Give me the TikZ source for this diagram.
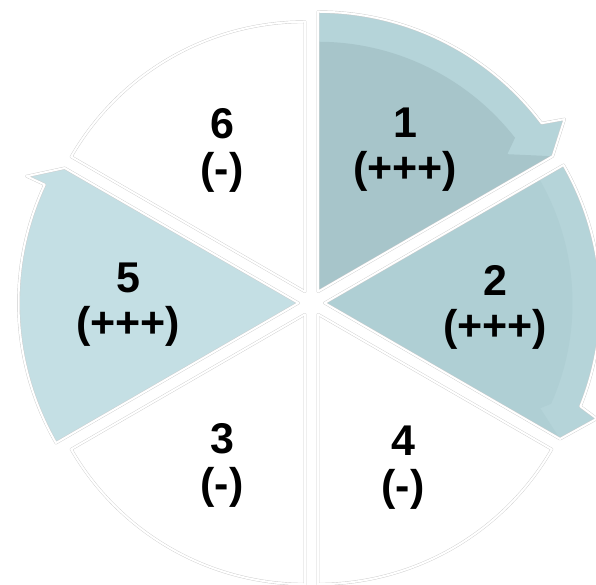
\documentclass[tikz,border=0pt]{standalone}
\usepackage{fontspec}
\setmainfont{Liberation Sans}
\usepackage{tikz}

\definecolor{tealband}{HTML}{B5D4D9}
\definecolor{tealone}{HTML}{A7C5CA}
\definecolor{tealtwo}{HTML}{AFCFD4}
\definecolor{tealfive}{HTML}{C4DFE4}

\begin{document}
\begin{tikzpicture}[x=1pt, y=1pt,
    sector/.style={draw=gray!40, double=white, double distance=2pt, line width=0.4pt, line join=round},
    num/.style={font=\fontsize{43}{45}\selectfont\bfseries, align=center}]
    \useasboundingbox (-311.5,-282) rectangle (284.5,303);

    % White sectors
    \draw[sector, fill=white, shift={(120:13)}] (0,0) -- (90:270) arc[start angle=90, end angle=150, radius=270] -- cycle;
    \draw[sector, fill=white, shift={(240:13)}] (0,0) -- (210:270) arc[start angle=210, end angle=270, radius=270] -- cycle;
    \draw[sector, fill=white, shift={(300:13)}] (0,0) -- (270:270) arc[start angle=270, end angle=330, radius=270] -- cycle;

    % Sector 1 (arrow)
    \begin{scope}[shift={(60:13)}]
        \fill[tealband] (0,0) -- (90:280) arc[start angle=90, end angle=37, radius=280] -- (35:301) -- (30:271) -- cycle;
        \fill[tealone] (0,0) -- (90:250) arc[start angle=90, end angle=38, radius=250] -- (36:234) -- (30:271) -- cycle;
        \draw[sector] (0,0) -- (90:280) arc[start angle=90, end angle=37, radius=280] -- (35:301) -- (30:271) -- cycle;
    \end{scope}

    % Sector 2 (arrow)
    \begin{scope}[shift={(0:13)}]
        \fill[tealband] (0,0) -- (30:276) arc[start angle=30, end angle=-22, radius=276] -- (-23:296) -- (-30:272) -- cycle;
        \fill[tealtwo] (0,0) -- (30:248) arc[start angle=30, end angle=-24, radius=248] -- (-26:240) -- (-30:272) -- cycle;
        \draw[sector] (0,0) -- (30:276) arc[start angle=30, end angle=-22, radius=276] -- (-23:296) -- (-30:272) -- cycle;
    \end{scope}

    % Sector 5 (arrow)
    \draw[sector, fill=tealfive, shift={(180:13)}] (0,0) -- (210:280) arc[start angle=210, end angle=155, radius=280] -- (155:300) -- (150:270) -- cycle;

    % Labels
    \node[num] (one) at (93.5,153) {1\\(+++)};
    \node[num] (two) at (183.5,-4) {2\\(+++)};
    \node[num] (three) at (-89.5,-162) {3\\(-)};
    \node[num] (four) at (91.5,-165) {4\\(-)};
    \node[num] (five) at (-183.5,-2) {5\\(+++)};
    \node[num] (six) at (-89.5,153) {6\\(-)};

\end{tikzpicture}
\end{document}
